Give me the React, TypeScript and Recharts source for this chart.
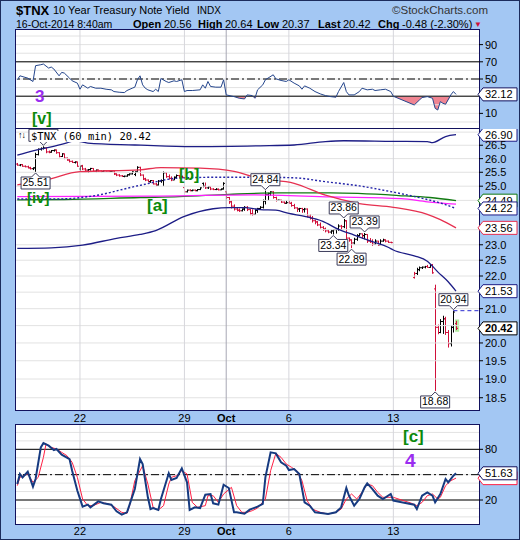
import React from 'react';
import {
  ComposedChart,
  Line,
  Area,
  Bar,
  XAxis,
  YAxis,
  ReferenceLine,
  ReferenceDot,
  ReferenceArea,
} from 'recharts';

// x positions are hourly slots: 8 bars a day, Sep 17 = slots 0-7 ... Oct 16 = slot 168
const dayTicks = [24, 64, 80, 104, 144];
const dayLabels = ['22', '29', 'Oct', '6', '13'];

// [open, high, low, close] per 60 min bar (null = Columbus Day, no bars)
const ohlcBars: (number[] | null)[] = [
  // Sep 17
  [25.8, 25.84, 25.74, 25.76], [25.76, 25.8, 25.72, 25.78], [25.78, 25.8, 25.7, 25.72], [25.72, 25.75, 25.68, 25.7],
  [25.7, 25.74, 25.64, 25.66], [25.66, 25.7, 25.6, 25.63], [25.63, 25.68, 25.58, 25.66], [25.66, 26.22, 25.51, 26.15],
  // Sep 18
  [26.15, 26.38, 26.12, 26.35], [26.35, 26.42, 26.3, 26.38], [26.38, 26.46, 26.34, 26.4], [26.4, 26.42, 26.2, 26.25],
  [26.25, 26.3, 26.2, 26.24], [26.24, 26.32, 26.22, 26.3], [26.3, 26.34, 26.26, 26.32], [26.32, 26.34, 26.18, 26.22],
  // Sep 19
  [26.22, 26.24, 26.05, 26.08], [26.08, 26.2, 26.06, 26.18], [26.18, 26.19, 25.98, 26.02], [26.02, 26.04, 25.92, 25.95],
  [25.95, 25.98, 25.86, 25.9], [25.9, 25.93, 25.84, 25.86], [25.86, 25.9, 25.82, 25.88], [25.88, 25.89, 25.7, 25.72],
  // Sep 22
  [25.62, 25.74, 25.56, 25.73], [25.73, 25.77, 25.58, 25.62], [25.62, 25.66, 25.55, 25.58], [25.58, 25.62, 25.48, 25.6],
  [25.6, 25.66, 25.56, 25.64], [25.64, 25.65, 25.52, 25.54], [25.54, 25.6, 25.5, 25.58], [25.58, 25.6, 25.52, 25.55],
  // Sep 23
  [25.55, 25.57, 25.5, 25.53], [25.53, 25.57, 25.51, 25.55], [25.55, 25.56, 25.52, 25.54], [25.54, 25.56, 25.51, 25.53],
  [25.53, 25.55, 25.51, 25.54], [25.54, 25.55, 25.4, 25.44], [25.44, 25.46, 25.36, 25.4], [25.4, 25.43, 25.34, 25.37],
  // Sep 24
  [25.37, 25.4, 25.33, 25.35], [25.35, 25.38, 25.32, 25.36], [25.36, 25.43, 25.34, 25.41], [25.41, 25.46, 25.38, 25.44],
  [25.44, 25.55, 25.42, 25.52], [25.42, 25.54, 25.36, 25.52], [25.52, 25.72, 25.5, 25.68], [25.68, 25.7, 25.36, 25.4],
  // Sep 25
  [25.4, 25.42, 25.22, 25.26], [25.26, 25.3, 25.18, 25.22], [25.22, 25.24, 25.14, 25.16], [25.16, 25.22, 25.12, 25.2],
  [25.2, 25.22, 25.06, 25.08], [25.08, 25.12, 25.0, 25.04], [25.04, 25.22, 25.02, 25.18], [25.18, 25.24, 25.12, 25.2],
  // Sep 26
  [25.2, 25.53, 25.0, 25.48], [25.48, 25.5, 25.3, 25.34], [25.34, 25.42, 25.24, 25.28], [25.28, 25.35, 25.18, 25.22],
  [25.22, 25.35, 25.22, 25.32], [25.32, 25.42, 25.28, 25.38], [25.38, 25.4, 25.3, 25.34], [25.34, 25.38, 25.28, 25.32],
  // Sep 29
  [24.95, 24.98, 24.76, 24.8], [24.8, 24.88, 24.78, 24.86], [24.86, 24.89, 24.82, 24.84], [24.84, 24.88, 24.82, 24.86],
  [24.86, 24.88, 24.82, 24.84], [24.84, 24.9, 24.82, 24.88], [24.88, 24.96, 24.86, 24.94], [25.1, 25.13, 24.96, 25.0],
  // Sep 30
  [25.0, 25.13, 24.9, 24.94], [24.94, 25.0, 24.9, 24.98], [24.98, 24.99, 24.86, 24.9], [24.9, 24.93, 24.86, 24.88],
  [24.88, 24.93, 24.86, 24.89], [24.89, 24.92, 24.85, 24.87], [24.87, 24.92, 24.86, 24.9], [24.9, 25.14, 24.88, 25.1],
  // Oct 1
  [24.8, 24.82, 24.55, 24.6], [24.6, 24.62, 24.38, 24.45], [24.45, 24.5, 24.22, 24.3], [24.3, 24.36, 24.15, 24.2],
  [24.2, 24.24, 24.12, 24.16], [24.16, 24.22, 24.1, 24.14], [24.14, 24.22, 24.12, 24.2], [24.2, 24.3, 24.14, 24.26],
  // Oct 2
  [24.26, 24.3, 24.13, 24.18], [24.18, 24.2, 23.99, 24.04], [24.04, 24.19, 23.97, 24.02], [24.02, 24.19, 24.0, 24.16],
  [24.16, 24.24, 24.07, 24.22], [24.22, 24.3, 24.18, 24.26], [24.26, 24.53, 24.22, 24.48], [24.48, 24.84, 24.36, 24.7],
  // Oct 3
  [24.7, 24.77, 24.5, 24.74], [24.74, 24.82, 24.66, 24.8], [24.8, 24.82, 24.56, 24.6], [24.6, 24.63, 24.46, 24.5],
  [24.5, 24.53, 24.48, 24.51], [24.51, 24.52, 24.41, 24.44], [24.44, 24.46, 24.38, 24.4], [24.4, 24.5, 24.38, 24.42],
  // Oct 6
  [24.42, 24.5, 24.38, 24.4], [24.4, 24.45, 24.28, 24.32], [24.32, 24.38, 24.2, 24.24], [24.24, 24.26, 24.1, 24.2],
  [24.2, 24.24, 24.1, 24.22], [24.22, 24.24, 24.07, 24.18], [24.18, 24.24, 24.08, 24.2], [24.2, 24.22, 23.91, 23.96],
  // Oct 7
  [23.96, 24.02, 23.84, 23.88], [23.88, 23.96, 23.74, 23.8], [23.8, 23.84, 23.68, 23.76], [23.76, 23.79, 23.62, 23.66],
  [23.66, 23.74, 23.54, 23.58], [23.58, 23.62, 23.46, 23.52], [23.52, 23.57, 23.41, 23.46], [23.46, 23.5, 23.38, 23.42],
  // Oct 8
  [23.42, 23.5, 23.36, 23.46], [23.46, 23.52, 23.34, 23.5], [23.5, 23.55, 23.37, 23.52], [23.52, 23.68, 23.46, 23.62],
  [23.62, 23.66, 23.46, 23.6], [23.6, 23.86, 23.55, 23.8], [23.8, 23.82, 23.18, 23.22], [23.22, 23.24, 23.1, 23.16],
  // Oct 9
  [23.16, 23.18, 22.89, 23.06], [23.06, 23.23, 23.0, 23.18], [23.18, 23.35, 23.13, 23.3], [23.3, 23.38, 23.28, 23.36],
  [23.36, 23.37, 23.2, 23.3], [23.3, 23.39, 23.18, 23.34], [23.34, 23.35, 23.06, 23.12], [23.12, 23.22, 23.06, 23.1],
  // Oct 10
  [23.1, 23.18, 22.96, 23.02], [23.02, 23.18, 23.0, 23.12], [23.12, 23.13, 22.96, 23.0], [23.0, 23.18, 22.99, 23.12],
  [23.12, 23.2, 23.1, 23.16], [23.16, 23.18, 23.08, 23.12], [23.12, 23.14, 23.06, 23.08], [23.08, 23.1, 23.05, 23.07],
  // Oct 13
  null, null, null, null, null, null, null, null,
  // Oct 14
  [21.95, 22.13, 21.92, 22.08], [22.08, 22.26, 22.03, 22.2], [22.2, 22.3, 22.15, 22.26], [22.26, 22.3, 22.22, 22.28],
  [22.28, 22.32, 22.24, 22.3], [22.3, 22.35, 22.26, 22.27], [22.27, 22.38, 22.26, 22.34], [22.34, 22.38, 22.07, 22.1],
  // Oct 15
  [21.6, 21.73, 18.68, 20.45], [20.45, 20.53, 20.25, 20.3], [20.3, 20.69, 20.28, 20.62], [20.62, 20.79, 20.26, 20.7],
  [20.7, 20.76, 20.23, 20.3], [20.3, 20.37, 19.87, 19.98], [19.98, 20.51, 19.9, 20.45], [20.45, 20.94, 20.3, 20.9],
  // Oct 16
  [20.56, 20.64, 20.37, 20.42],
];

// overlays, [slot, price]
const upperBand = [[0, 26.13], [6, 26.29], [13, 26.44], [19, 26.59], [22, 26.67], [27, 26.58], [45, 26.51], [57, 26.47], [70, 26.45], [93, 26.48], [106, 26.51], [118, 26.64], [125, 26.67], [144, 26.65], [157, 26.64], [159, 26.6], [164, 26.83], [168, 26.9]];
const lowerBand = [[0, 22.88], [13, 22.9], [25, 22.99], [38, 23.21], [47, 23.34], [53, 23.47], [64, 23.95], [75, 24.21], [81, 24.25], [87, 24.25], [93, 24.18], [99, 24.16], [104, 24.05], [110, 23.95], [117, 23.78], [123, 23.51], [129, 23.32], [136, 23.1], [142, 22.92], [144, 22.83], [152, 22.64], [157, 22.47], [161, 22.13], [165, 21.82], [168, 21.53]];
const redAvg = [[0, 25.05], [11, 25.23], [24, 25.52], [47, 25.59], [55, 25.67], [70, 25.65], [83, 25.53], [92, 25.29], [106, 25.1], [118, 24.68], [131, 24.39], [144, 24.26], [157, 24.02], [162, 23.84], [168, 23.56]];
const blueAvg = [[0, 24.55], [16, 24.55], [28, 24.64], [47, 25.03], [62, 25.29], [77, 25.32], [93, 25.32], [106, 25.3], [118, 25.16], [131, 25.01], [144, 24.79], [157, 24.53], [162, 24.41], [168, 24.22]];
const greenAvg = [[0, 24.52], [18, 24.53], [47, 24.6], [62, 24.63], [81, 24.71], [100, 24.76], [120, 24.76], [146, 24.67], [158, 24.6], [168, 24.49]];
const magentaAvg = [[0, 24.63], [51, 24.65], [91, 24.69], [120, 24.62], [147, 24.56], [157, 24.45], [168, 24.37]];

// high / low call-outs (the 26.46 one sits under the panel title)
const highLowMarks = [
  { slot: 10, price: 26.46, high: true, shown: false },
  { slot: 7, price: 25.51, high: false, shown: true },
  { slot: 95, price: 24.84, high: true, shown: true },
  { slot: 125, price: 23.86, high: true, shown: true },
  { slot: 121, price: 23.34, high: false, shown: true },
  { slot: 133, price: 23.39, high: true, shown: true },
  { slot: 128, price: 22.89, high: false, shown: true },
  { slot: 167, price: 20.94, high: true, shown: true },
  { slot: 160, price: 18.68, high: false, shown: true },
];

const rsiPoints = [[0, 49.1], [1, 53.7], [4, 51.0], [6, 47.1], [7, 65.5], [9, 66.6], [10, 67.4], [12, 62.7], [13, 63.9], [14, 61.6], [16, 53.7], [17, 57.7], [18, 56.9], [20, 51.0], [21, 47.9], [23, 45.2], [24, 38.1], [25, 43.2], [27, 39.3], [28, 41.3], [30, 39.3], [32, 39.3], [34, 38.1], [36, 37.4], [37, 35.4], [39, 34.6], [41, 34.2], [42, 36.6], [44, 39.3], [45, 40.5], [46, 49.1], [47, 53.7], [48, 43.2], [49, 39.3], [50, 37.4], [52, 35.4], [53, 38.1], [54, 35.4], [55, 50.6], [57, 47.1], [58, 45.9], [60, 47.9], [61, 47.1], [63, 49.1], [64, 35.4], [65, 36.6], [67, 36.6], [70, 37.4], [71, 43.2], [72, 39.3], [73, 47.1], [74, 41.3], [76, 40.5], [78, 40.5], [79, 49.1], [80, 31.5], [83, 29.5], [85, 27.6], [87, 26.8], [88, 31.5], [90, 30.7], [91, 27.6], [92, 37.4], [94, 43.2], [95, 49.1], [98, 54.9], [99, 50.2], [101, 48.3], [103, 47.1], [104, 49.1], [106, 45.2], [108, 42.0], [109, 38.1], [110, 42.0], [112, 39.3], [114, 35.4], [116, 32.7], [118, 30.7], [120, 29.5], [122, 28.8], [123, 35.4], [125, 45.9], [126, 35.4], [127, 31.5], [129, 31.5], [131, 35.4], [132, 39.3], [134, 37.4], [136, 38.1], [137, 36.6], [139, 37.4], [141, 38.1], [143, 35.4], [144, 29.9], [152, 19.8], [154, 25.6], [155, 28.4], [157, 29.5], [159, 27.6], [160, 15.9], [161, 13.9], [162, 23.7], [163, 21.7], [164, 20.6], [166, 31.5], [167, 35.4], [168, 32.12]];

const stochK = [[0, 38.9], [1, 50.8], [2, 46.8], [4, 53.5], [6, 35.8], [7, 44.9], [9, 82.3], [10, 87.5], [12, 84.3], [14, 79.2], [15, 80.4], [17, 73.6], [20, 68.5], [21, 54.7], [23, 31.0], [25, 12.1], [27, 14.5], [28, 11.3], [31, 18.4], [33, 16.1], [36, 14.5], [38, 6.6], [40, 2.6], [42, 5.4], [45, 33.0], [47, 68.5], [48, 62.6], [50, 23.2], [51, 9.3], [52, 10.5], [54, 8.2], [55, 21.2], [58, 51.6], [59, 43.7], [61, 46.0], [63, 57.5], [65, 40.9], [66, 8.2], [68, 11.3], [70, 10.5], [72, 26.3], [74, 27.1], [75, 16.1], [77, 14.5], [79, 38.1], [81, 34.2], [83, 5.4], [84, 5.4], [87, 3.8], [89, 8.6], [92, 12.1], [94, 15.3], [95, 46.8], [97, 76.4], [99, 75.2], [101, 64.6], [103, 60.6], [104, 55.5], [106, 56.7], [108, 50.8], [110, 17.2], [112, 13.3], [114, 5.4], [117, 4.2], [119, 3.4], [122, 5.4], [124, 11.3], [126, 34.2], [127, 25.1], [129, 13.3], [131, 21.2], [133, 35.0], [134, 39.7], [136, 33.0], [138, 25.1], [140, 21.2], [143, 27.1], [144, 19.2], [152, 14.5], [153, 9.3], [155, 25.1], [157, 29.1], [159, 25.1], [160, 17.2], [162, 27.1], [164, 44.9], [165, 40.9], [167, 48.8], [168, 51.63]];
const stochD = [[0, 37.0], [1, 46.8], [4, 50.8], [6, 40.9], [8, 46.8], [10, 70.5], [11, 86.3], [13, 82.3], [15, 80.4], [17, 76.4], [19, 72.5], [21, 64.6], [23, 46.8], [25, 21.2], [27, 13.3], [29, 13.3], [32, 17.2], [35, 15.3], [37, 12.1], [40, 5.4], [42, 4.2], [43, 13.3], [45, 42.9], [48, 60.6], [50, 38.9], [52, 11.3], [54, 8.2], [56, 13.3], [58, 38.9], [59, 46.8], [61, 48.8], [63, 54.7], [65, 50.8], [67, 17.2], [69, 11.3], [72, 13.3], [73, 25.1], [75, 25.1], [77, 17.2], [79, 27.1], [82, 35.0], [84, 13.3], [86, 5.4], [88, 5.4], [90, 7.4], [92, 10.5], [95, 21.2], [97, 54.7], [99, 75.2], [101, 70.5], [103, 62.6], [105, 58.7], [107, 54.7], [109, 42.9], [111, 19.2], [113, 9.3], [116, 5.4], [119, 3.4], [122, 5.4], [124, 9.3], [126, 21.2], [128, 27.1], [130, 21.2], [132, 29.1], [134, 38.9], [136, 37.0], [138, 29.1], [140, 23.2], [142, 23.2], [144, 23.2], [151, 16.1], [153, 13.3], [155, 17.2], [157, 25.1], [159, 27.1], [161, 21.2], [162, 23.2], [164, 37.0], [166, 42.9], [168, 45.9]];

const priceTicks = [18.5, 19, 19.5, 20, 21, 22, 22.5, 23, 25, 25.5, 26, 26.5];
const priceGrid = [18.5, 19, 19.5, 20, 20.5, 21, 21.5, 22, 22.5, 23, 23.5, 24, 24.5, 25, 25.5, 26, 26.5, 27];
const tenGrid = [0, 10, 20, 30, 40, 50, 60, 70, 80, 90, 100];

const FONT = '"Liberation Sans", Arial, sans-serif';
const NAVY = '#12125e';
const BAR_RED = '#d0103a';
const X_MAX = 176.8;
const X_DOMAIN: [number, number] = [-0.5, X_MAX];

// tables
let prevClose: number | null = null;
const mainRows: any[] = ohlcBars.map((b, s) => {
  const row: any = { s };
  if (b) {
    row.range = [b[2], b[1]];
    row.ohlc = b;
    row.up = prevClose === null ? b[3] >= b[0] : b[3] >= prevClose;
    prevClose = b[3];
  }
  return row;
});
const overlays: [string, number[][]][] = [
  ['upper', upperBand], ['lower', lowerBand], ['red', redAvg],
  ['blue', blueAvg], ['green', greenAvg], ['magenta', magentaAvg],
];
overlays.forEach(([k, pts]) => pts.forEach(([s, v]) => { mainRows[s][k] = v; }));

const rsiRows = rsiPoints.map(([s, v]) => ({ s, v }));

const stochRows: any[] = ohlcBars.map((_, s) => ({ s }));
stochK.forEach(([s, v]) => { stochRows[s].k = v; });
stochD.forEach(([s, v]) => { stochRows[s].d = v; });

function OhlcShape(props: any) {
  const { x, y, width, height, payload } = props;
  if (!payload || !payload.ohlc) return null;
  const [o, h, l, c] = payload.ohlc;
  const cx = Math.round(x + width / 2) + 0.5;
  const span = Math.log(h) - Math.log(l);
  const py = (v: number) => (span > 0 ? y + (height * (Math.log(h) - Math.log(v))) / span : y);
  const color = payload.up ? '#000' : BAR_RED;
  return (
    <g stroke={color} strokeWidth={1}>
      <line x1={cx} x2={cx} y1={y} y2={y + Math.max(height, 1)} />
      <line x1={cx - 1.5} x2={cx} y1={py(o)} y2={py(o)} />
      <line x1={cx} x2={cx + 1.5} y1={py(c)} y2={py(c)} />
    </g>
  );
}

function Tag({ cx, cy, text, color, bold }: any) {
  const x0 = cx - 1;
  return (
    <g>
      <polygon
        points={`${x0},${cy} ${x0 + 5},${cy - 6.5} ${x0 + 39},${cy - 6.5} ${x0 + 39},${cy + 6.5} ${x0 + 5},${cy + 6.5}`}
        fill="#fff"
        stroke={color}
        strokeWidth={1}
      />
      {text ? (
        <text x={x0 + 7} y={cy + 4} fontSize={11} fontWeight={bold ? 'bold' : 'normal'} fill="#000" fontFamily={FONT}>
          {text}
        </text>
      ) : null}
    </g>
  );
}

function Marker({ cx, cy, text, high }: any) {
  const w = 29;
  const h = 12;
  const x0 = cx - w / 2;
  let d: string;
  let ty: number;
  if (high) {
    const yb = cy - 5;
    const yt = yb - h;
    d = `M${x0},${yt} H${x0 + w} V${yb} H${cx + 4} L${cx},${cy - 1} L${cx - 4},${yb} H${x0} Z`;
    ty = yb - 2.5;
  } else {
    const yt = cy + 5;
    const yb = yt + h;
    d = `M${x0},${yt} H${cx - 4} L${cx},${cy + 1} L${cx + 4},${yt} H${x0 + w} V${yb} H${x0} Z`;
    ty = yb - 2.5;
  }
  return (
    <g>
      <path d={d} fill="#fff" stroke="#3c3c5a" strokeWidth={1} />
      {text ? (
        <text x={cx} y={ty} textAnchor="middle" fontSize={10.5} fill="#000" fontFamily={FONT}>
          {text}
        </text>
      ) : null}
    </g>
  );
}

function DateTick(props: any) {
  const { x, y, payload, off } = props;
  const label = dayLabels[dayTicks.indexOf(payload.value)];
  return (
    <text x={x} y={y + off} textAnchor="middle" fontSize={11} fontWeight={label === 'Oct' ? 'bold' : 'normal'} fill="#000" fontFamily={FONT}>
      {label}
    </text>
  );
}

const yTick = { fontSize: 11, fill: '#000', fontFamily: FONT };

function dayLines() {
  return dayTicks.map((t) => (
    <ReferenceLine key={'v' + t} x={t} stroke={t === 80 ? '#a8a8b4' : '#d6d6dc'} strokeWidth={1} />
  ));
}

function gridLines(vals: number[]) {
  return vals.map((v) => <ReferenceLine key={'h' + v} y={v} stroke="#e2e2e2" strokeWidth={1} />);
}

function panelBox(top: number, height: number) {
  return (
    <div
      style={{
        position: 'absolute', left: 15, top, width: 465, height,
        boxSizing: 'border-box', border: `1px solid ${NAVY}`, background: '#fff',
      }}
    />
  );
}

function abs(left: number, top: number, style: any, children: any) {
  return <div style={{ position: 'absolute', left, top, whiteSpace: 'nowrap', lineHeight: 1, ...style }}>{children}</div>;
}

const waveGreen = { color: '#0b8a0b', fontWeight: 'bold', fontFamily: FONT };
const wavePurple = { color: '#9a2df0', fontWeight: 'bold', fontFamily: FONT };

export default function App() {
  return (
    <div
      style={{
        position: 'absolute', left: 0, top: 0, width: 520, height: 540, boxSizing: 'border-box',
        background: '#a3c7f3', border: '1px solid #1c2c5c', overflow: 'hidden', fontFamily: FONT,
      }}
    >
      <style>{'body{margin:0}'}</style>
      <div style={{ position: 'absolute', left: -1, top: -1, width: 520, height: 540 }}>
        {/* header */}
        {abs(16, 4, { fontSize: 13, fontWeight: 'bold' }, '$TNX')}
        {abs(53, 5, { fontSize: 11 }, '10 Year Treasury Note Yield')}
        {abs(197, 6, { fontSize: 10 }, 'INDX')}
        {abs(392, 5, { fontSize: 11.5, color: '#333' }, '©StockCharts.com')}
        {abs(16, 19, { fontSize: 10.5 }, '16-Oct-2014 8:40am')}
        {abs(133, 19, { fontSize: 11, fontWeight: 'bold' }, 'Open')}
        {abs(164, 19, { fontSize: 11 }, '20.56')}
        {abs(198, 19, { fontSize: 11, fontWeight: 'bold' }, 'High')}
        {abs(225, 19, { fontSize: 11 }, '20.64')}
        {abs(257, 19, { fontSize: 11, fontWeight: 'bold' }, 'Low')}
        {abs(282, 19, { fontSize: 11 }, '20.37')}
        {abs(318, 19, { fontSize: 11, fontWeight: 'bold' }, 'Last')}
        {abs(343, 19, { fontSize: 11 }, '20.42')}
        {abs(378, 19, { fontSize: 11, fontWeight: 'bold' }, 'Chg')}
        {abs(402, 19, { fontSize: 11 }, '-0.48 (-2.30%)')}
        {abs(474, 21, { fontSize: 8, color: '#d0103a' }, '▼')}

        {panelBox(29, 100)}
        {panelBox(128, 283)}
        {panelBox(424, 101)}

        {/* RSI panel */}
        <div style={{ position: 'absolute', left: 0, top: 30 }}>
          <ComposedChart width={520} height={98} data={rsiRows} margin={{ top: 0, right: 0, bottom: 0, left: 16 }}>
            <XAxis type="number" dataKey="s" domain={X_DOMAIN} hide allowDataOverflow />
            <YAxis
              orientation="right" width={41} type="number" domain={[-7, 107]} ticks={[10, 50, 70, 90]} interval={0}
              tick={yTick} tickSize={4} tickMargin={2} axisLine={false} tickLine={{ stroke: '#000' }} allowDataOverflow
            />
            {gridLines(tenGrid)}
            {dayLines()}
            <ReferenceLine y={70} stroke="#000" />
            <ReferenceLine y={30} stroke="#000" />
            <ReferenceLine y={50} stroke="#000" strokeDasharray="8 3 2 3" />
            <Area
              type="linear" dataKey={(d: any) => [Math.min(d.v, 30), 30]} stroke="none" fill="#f08592"
              fillOpacity={1} isAnimationActive={false}
            />
            <Line type="linear" dataKey="v" stroke="#24458c" strokeWidth={1} dot={false} isAnimationActive={false} />
            <ReferenceDot x={X_MAX} y={32.12} ifOverflow="visible" shape={(p: any) => <Tag cx={p.cx} cy={p.cy} text="32.12" color={NAVY} />} />
          </ComposedChart>
        </div>

        {/* price panel */}
        <div style={{ position: 'absolute', left: 0, top: 129 }}>
          <ComposedChart width={520} height={296} data={mainRows} margin={{ top: 0, right: 0, bottom: 0, left: 16 }}>
            <XAxis
              type="number" dataKey="s" domain={X_DOMAIN} ticks={dayTicks} interval={0} height={15}
              axisLine={false} tickLine={false} tickSize={0} tickMargin={0} tick={<DateTick off={12} />} allowDataOverflow
            />
            <YAxis
              orientation="right" width={41} type="number" scale="log" domain={[18.18, 27.12]} ticks={priceTicks}
              interval={0} tickFormatter={(v: number) => v.toFixed(1)} tick={yTick} tickSize={4} tickMargin={2}
              axisLine={false} tickLine={{ stroke: '#000' }} allowDataOverflow
            />
            {gridLines(priceGrid)}
            {dayLines()}
            <Line type="monotone" dataKey="upper" stroke="#1d1d86" strokeWidth={1.3} dot={false} connectNulls isAnimationActive={false} />
            <Line type="monotone" dataKey="lower" stroke="#1d1d86" strokeWidth={1.3} dot={false} connectNulls isAnimationActive={false} />
            <Line type="monotone" dataKey="green" stroke="#127a12" strokeWidth={1.3} dot={false} connectNulls isAnimationActive={false} />
            <Line type="monotone" dataKey="magenta" stroke="#ff22ff" strokeWidth={1.3} dot={false} connectNulls isAnimationActive={false} />
            <Line type="monotone" dataKey="red" stroke="#e63050" strokeWidth={1.3} dot={false} connectNulls isAnimationActive={false} />
            <Line
              type="monotone" dataKey="blue" stroke="#2424a8" strokeWidth={1.4} strokeDasharray="2 2"
              dot={false} connectNulls isAnimationActive={false}
            />
            <ReferenceArea x1={167.6} x2={169.2} y1={20.32} y2={20.68} fill="#b4eea4" fillOpacity={1} stroke="none" />
            <ReferenceLine
              segment={[{ x: 167, y: 20.94 }, { x: X_MAX, y: 20.94 }]} stroke="#2a2ad0" strokeDasharray="4 3" ifOverflow="visible"
            />
            <Bar dataKey="range" barSize={3} shape={<OhlcShape />} isAnimationActive={false} />
            {highLowMarks.map((m) => (
              <ReferenceDot
                key={'m' + m.slot} x={m.slot} y={m.price} ifOverflow="visible"
                shape={(p: any) => <Marker cx={p.cx} cy={p.cy} text={m.shown ? m.price.toFixed(2) : ''} high={m.high} />}
              />
            ))}
            <ReferenceDot x={X_MAX} y={26.9} ifOverflow="visible" shape={(p: any) => <Tag cx={p.cx} cy={p.cy} text="26.90" color="#1d1d86" />} />
            <ReferenceDot x={X_MAX} y={24.49} ifOverflow="visible" shape={(p: any) => <Tag cx={p.cx} cy={p.cy} text="24.49" color="#127a12" />} />
            <ReferenceDot x={X_MAX} y={24.22} ifOverflow="visible" shape={(p: any) => <Tag cx={p.cx} cy={p.cy} text="24.22" color="#1d1d86" />} />
            <ReferenceDot x={X_MAX} y={23.56} ifOverflow="visible" shape={(p: any) => <Tag cx={p.cx} cy={p.cy} text="23.56" color="#e63050" />} />
            <ReferenceDot x={X_MAX} y={21.53} ifOverflow="visible" shape={(p: any) => <Tag cx={p.cx} cy={p.cy} text="21.53" color="#1d1d86" />} />
            <ReferenceDot x={X_MAX} y={20.42} ifOverflow="visible" shape={(p: any) => <Tag cx={p.cx} cy={p.cy} text="20.42" color="#000" bold />} />
          </ComposedChart>
        </div>

        {/* stochastic panel */}
        <div style={{ position: 'absolute', left: 0, top: 425 }}>
          <ComposedChart width={520} height={115} data={stochRows} margin={{ top: 0, right: 0, bottom: 0, left: 16 }}>
            <XAxis
              type="number" dataKey="s" domain={X_DOMAIN} ticks={dayTicks} interval={0} height={16}
              axisLine={false} tickLine={false} tickSize={0} tickMargin={0} tick={<DateTick off={10.5} />} allowDataOverflow
            />
            <YAxis
              orientation="right" width={41} type="number" domain={[-8.4, 108.8]} ticks={[20, 80]} interval={0}
              tick={yTick} tickSize={4} tickMargin={2} axisLine={false} tickLine={{ stroke: '#000' }} allowDataOverflow
            />
            {gridLines(tenGrid)}
            {dayLines()}
            <ReferenceLine y={80} stroke="#000" />
            <ReferenceLine y={20} stroke="#000" />
            <ReferenceLine y={50} stroke="#000" strokeDasharray="8 3 2 3" />
            <Line type="linear" dataKey="d" stroke="#ff1f44" strokeWidth={1} dot={false} connectNulls isAnimationActive={false} />
            <Line type="linear" dataKey="k" stroke="#163a80" strokeWidth={2} dot={false} connectNulls isAnimationActive={false} />
            <ReferenceDot x={X_MAX} y={45.9} ifOverflow="visible" shape={(p: any) => <Tag cx={p.cx} cy={p.cy} text="" color="#ff1f44" />} />
            <ReferenceDot x={X_MAX} y={51.63} ifOverflow="visible" shape={(p: any) => <Tag cx={p.cx} cy={p.cy} text="51.63" color={NAVY} />} />
          </ComposedChart>
        </div>

        {/* title inside price panel */}
        {abs(18, 131, { fontSize: 9, letterSpacing: -1 }, '↑↓')}
        {abs(31, 131, { fontSize: 10.5, fontFamily: '"DejaVu Sans Mono", monospace', background: '#fff' }, '$TNX (60 min) 20.42')}

        {/* wave labels */}
        {abs(35, 88, { ...wavePurple, fontSize: 17 }, '3')}
        {abs(32, 111, { ...waveGreen, fontSize: 16 }, '[v]')}
        {abs(27, 190, { ...waveGreen, fontSize: 15 }, '[iv]')}
        {abs(147, 197, { ...waveGreen, fontSize: 17 }, '[a]')}
        {abs(179, 167, { ...waveGreen, fontSize: 16 }, '[b]')}
        {abs(403, 428, { ...waveGreen, fontSize: 17 }, '[c]')}
        {abs(405, 451, { ...wavePurple, fontSize: 19 }, '4')}
      </div>
    </div>
  );
}
